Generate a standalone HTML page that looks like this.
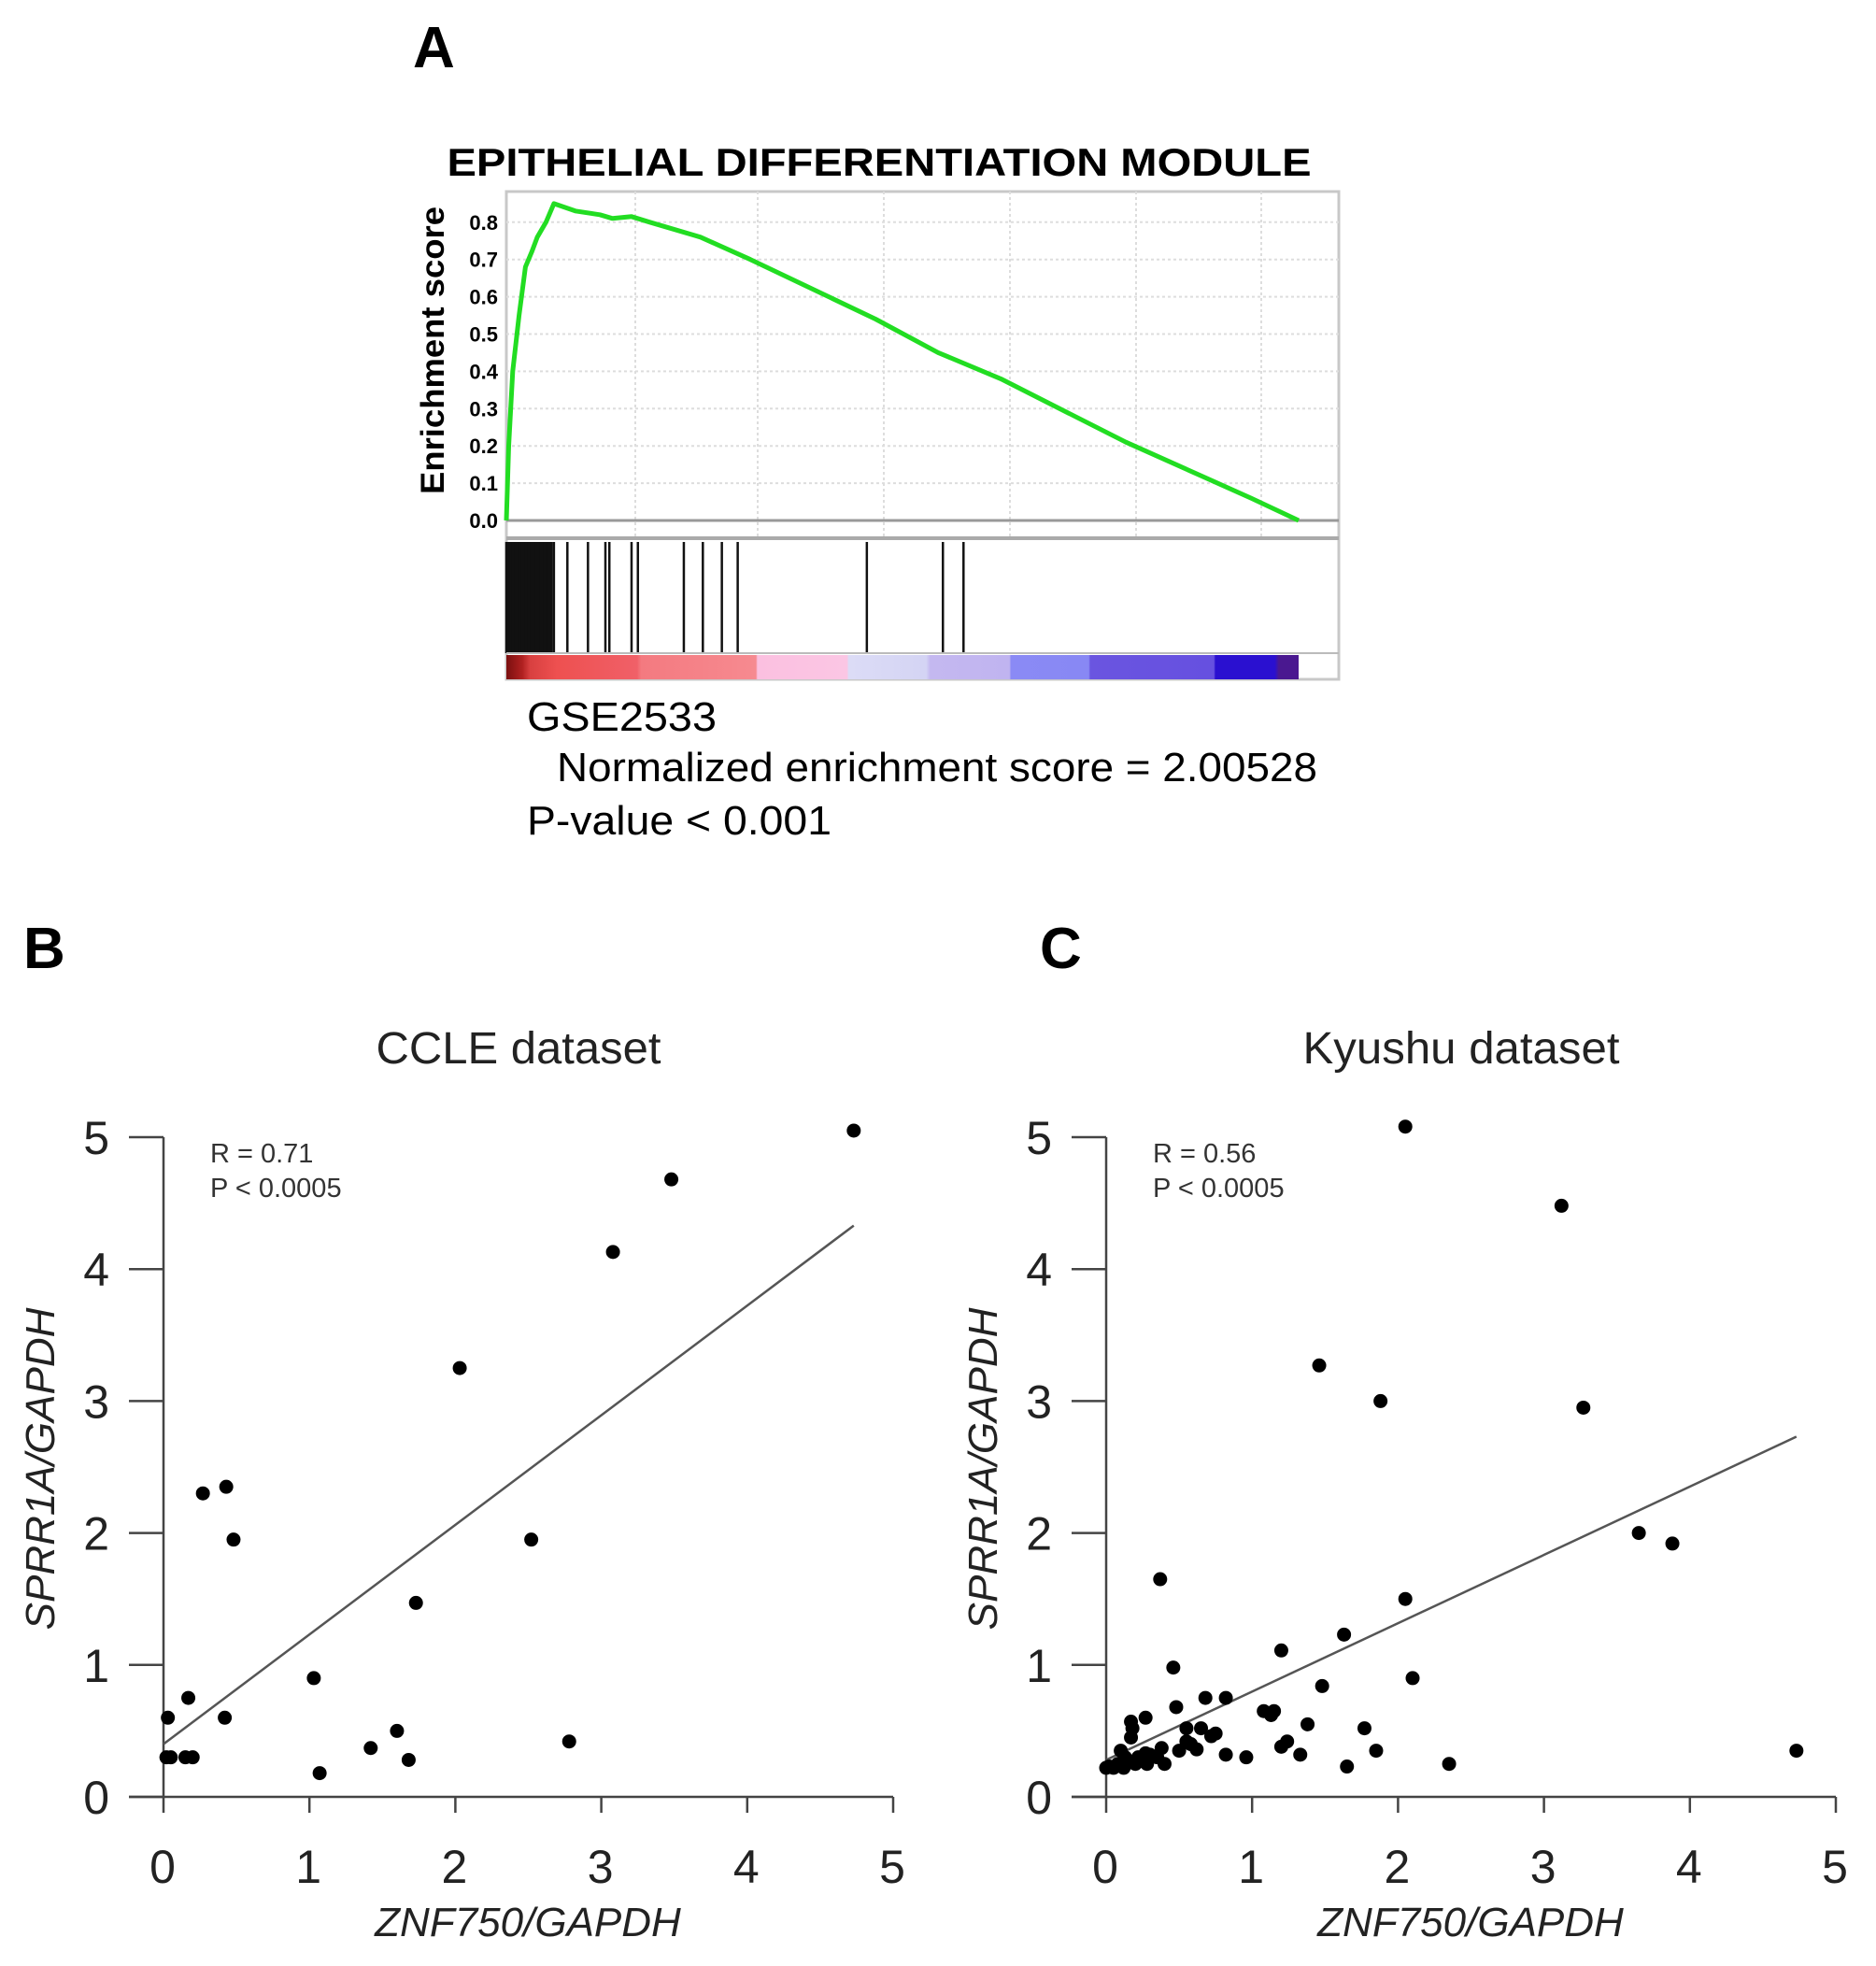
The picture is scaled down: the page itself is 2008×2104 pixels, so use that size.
<!DOCTYPE html>
<html><head><meta charset="utf-8"><style>
html,body{margin:0;padding:0;background:#fff;}
svg{display:block;font-family:"Liberation Sans",Arial,sans-serif;}
</style></head><body>
<svg id="fig" width="2008" height="2104" viewBox="0 0 2008 2104" xmlns="http://www.w3.org/2000/svg">
<rect width="2008" height="2104" fill="#fff"/>
<text x="442" y="72" font-size="62" font-weight="bold">A</text>
<text x="941" y="188" font-size="42" font-weight="bold" text-anchor="middle" textLength="925" lengthAdjust="spacingAndGlyphs">EPITHELIAL DIFFERENTIATION MODULE</text>
<g id="gsea"></g>
<text x="564" y="782" font-size="44" textLength="203" lengthAdjust="spacingAndGlyphs">GSE2533</text>
<text x="596" y="836" font-size="44" textLength="814" lengthAdjust="spacingAndGlyphs">Normalized enrichment score = 2.00528</text>
<text x="564" y="893" font-size="44" textLength="326" lengthAdjust="spacingAndGlyphs">P-value &lt; 0.001</text>
<text x="25" y="1036" font-size="62" font-weight="bold">B</text>
<text x="1113" y="1036" font-size="62" font-weight="bold">C</text>
<g id="scB"></g>
<g id="scC"></g>
</svg>
<script>
// GSEA data
const esRank = [0,0.003,0.008,0.016,0.024,0.032,0.039,0.05,0.06,0.087,0.118,0.134,0.158,0.181,0.245,0.308,0.466,0.545,0.624,0.782,0.94,1.0];
const esValue = [0,0.2,0.4,0.55,0.68,0.72,0.76,0.8,0.85,0.83,0.82,0.81,0.815,0.8,0.76,0.7,0.54,0.45,0.38,0.21,0.06,0];
const esTicks = [0.0,0.1,0.2,0.3,0.4,0.5,0.6,0.7,0.8];
const hitRank = [0.002,0.006,0.01,0.014,0.018,0.022,0.026,0.03,0.034,0.04,0.045,0.05,0.055,0.06,0.077,0.103,0.125,0.13,0.158,0.166,0.224,0.248,0.272,0.292,0.455,0.551,0.577];
// CCLE data
const bX = [0.03,0.02,0.05,0.17,0.15,0.2,0.27,0.43,0.48,0.42,1.03,1.07,1.42,1.6,1.68,1.73,2.03,2.52,2.78,3.08,3.48,4.73];
const bY = [0.6,0.3,0.3,0.75,0.3,0.3,2.3,2.35,1.95,0.6,0.9,0.18,0.37,0.5,0.28,1.47,3.25,1.95,0.42,4.13,4.68,5.05];
const bFit = [0.4,4.33];
// Kyushu data
const cX = [2.05,3.12,1.46,1.88,3.27,3.65,3.88,0.37,2.05,1.63,1.2,0.46,2.1,1.48,0.48,0.68,0.82,1.08,1.13,1.15,1.38,1.77,1.2,1.24,1.33,1.85,1.65,2.35,4.73,0.82,0.96,0.72,0.75,0.55,0.65,0.58,0.5,0.62,0.55,0.38,0.4,0.35,0.17,0.18,0.17,0.27,0.1,0.05,0,0.02,0.08,0.12,0.15,0.2,0.22,0.25,0.27,0.3,0.13,0.28];
const cY = [5.08,4.48,3.27,3.0,2.95,2.0,1.92,1.65,1.5,1.23,1.11,0.98,0.9,0.84,0.68,0.75,0.75,0.65,0.62,0.65,0.55,0.52,0.38,0.42,0.32,0.35,0.23,0.25,0.35,0.32,0.3,0.46,0.48,0.52,0.52,0.4,0.35,0.36,0.42,0.37,0.25,0.3,0.57,0.52,0.45,0.6,0.35,0.22,0.22,0.23,0.25,0.22,0.26,0.25,0.3,0.28,0.33,0.32,0.3,0.25];
const cFit = [0.28,2.73];
const axTicks = [0,1,2,3,4,5];

const NS="http://www.w3.org/2000/svg";
function mk(parent,tag,attrs){const e=document.createElementNS(NS,tag);for(const k in attrs)e.setAttribute(k,attrs[k]);parent.appendChild(e);return e;}

(function(){
  const g=document.getElementById('gsea');
  const L=542,R=1433,T=205,B=576,x0=542,x1=1390,y0=557,ppu=399;
  const sx=r=>x0+r*(x1-x0), sy=v=>y0-v*ppu;
  const box=mk(g,'rect',{x:L,y:T,width:R-L,height:727-T,fill:'none',stroke:'#c8c8c8','stroke-width':3});
  
  
  [680,811,946,1081,1216,1350].forEach(x=>{const l=mk(g,'line',{x1:x,x2:x,y1:T,y2:B,stroke:'#ddd','stroke-width':2,'stroke-dasharray':'3 3'});
    
    });
  esTicks.forEach(v=>{const y=sy(v);
    if(v>0){const l=mk(g,'line',{x1:L,x2:R,y1:y,y2:y,stroke:'#ddd','stroke-width':2,'stroke-dasharray':'3 3'});
      
      }
    const t=mk(g,'text',{x:533,y:y+8,'font-size':22,'font-weight':'bold','text-anchor':'end'});t.textContent=v.toFixed(1);
    
    });
  const zl=mk(g,'line',{x1:L,x2:R,y1:y0,y2:y0,stroke:'#999','stroke-width':3});
  
  
  const sep=mk(g,'line',{x1:L,x2:R,y1:B,y2:B,stroke:'#aaa','stroke-width':4});
  
  
  const yl=mk(g,'text',{x:0,y:0,'font-size':35,'font-weight':'bold','text-anchor':'middle',transform:'translate(475,375) rotate(-90)',textLength:308,lengthAdjust:'spacingAndGlyphs'});yl.textContent='Enrichment score';
  
  
  const pts=esRank.map((r,i)=>sx(r).toFixed(1)+','+sy(esValue[i]).toFixed(1)).join(' ');
  const pl=mk(g,'polyline',{points:pts,fill:'none',stroke:'#22dd22','stroke-width':5,'stroke-linejoin':'round'});
  
  
  hitRank.forEach(r=>{const l=mk(g,'line',{x1:sx(r),x2:sx(r),y1:580,y2:699,stroke:'#111','stroke-width':r<0.06?6:2.5});
    
    });
  const hl=mk(g,'line',{x1:L,x2:R,y1:699,y2:699,stroke:'#bbb','stroke-width':2});
  
  
  const defs=mk(g,'defs',{});const gr=mk(defs,'linearGradient',{id:'rk',x1:0,x2:1,y1:0,y2:0});
  [[0,'#7a1010'],[0.02,'#b02020'],[0.03,'#d84040'],[0.064,'#ee5050'],[0.165,'#f06068'],[0.17,'#f47a80'],[0.315,'#f68a90'],[0.317,'#fbc0e0'],[0.43,'#fbc6e4'],[0.432,'#dcdcf6'],[0.53,'#d4d4f4'],[0.535,'#c4b8f0'],[0.635,'#c0b4f0'],[0.637,'#8a8af5'],[0.735,'#8888f4'],[0.737,'#6a55e0'],[0.893,'#6650e0'],[0.895,'#2a10d0'],[0.97,'#2a10d0'],[0.975,'#4a1890'],[1,'#4a1890']].forEach(s=>mk(gr,'stop',{offset:s[0],'stop-color':s[1]}));
  const cb=mk(g,'rect',{x:x0,y:701,width:x1-x0,height:26,fill:'url(#rk)'});
  
  
})();

function scatter(id,X,Y,fit,ax,title,rtxt,titleW){
  const g=document.getElementById(id);
  const y0=1923,y5=1217,x5=ax+781;
  const sx=v=>ax+v*(x5-ax)/5, sy=v=>y0-v*(y0-y5)/5;
  const t=mk(g,'text',{x:ax+380,y:1138,'font-size':48,'text-anchor':'middle',fill:'#222',textLength:titleW,lengthAdjust:'spacingAndGlyphs'});t.textContent=title;
  
  
  const a1=mk(g,'line',{x1:ax,x2:ax,y1:y5,y2:y0,stroke:'#444','stroke-width':2.5});
  
  
  const a2=mk(g,'line',{x1:ax-37,x2:x5,y1:y0,y2:y0,stroke:'#444','stroke-width':2.5});
  
  
  axTicks.forEach(v=>{
    const l1=mk(g,'line',{x1:ax-37,x2:ax,y1:sy(v),y2:sy(v),stroke:'#444','stroke-width':2.5});
    
    
    const l2=mk(g,'line',{x1:sx(v),x2:sx(v),y1:y0,y2:y0+17,stroke:'#444','stroke-width':2.5});
    
    
    const ty=mk(g,'text',{x:ax-58,y:sy(v)+18,'font-size':50,'text-anchor':'end',fill:'#222'});ty.textContent=v;
    
    
    const tx=mk(g,'text',{x:sx(v)-1,y:2015,'font-size':50,'text-anchor':'middle',fill:'#222'});tx.textContent=v;
    
    
  });
  const xl=mk(g,'text',{x:ax+390,y:2072,'font-size':44,'font-style':'italic','text-anchor':'middle',fill:'#222'});xl.textContent='ZNF750/GAPDH';
  
  
  const yl=mk(g,'text',{x:0,y:0,'font-size':44,'font-style':'italic','text-anchor':'middle',fill:'#222',transform:`translate(${ax-117},1572) rotate(-90)`});yl.textContent='SPRR1A/GAPDH';
  
  
  const r1=mk(g,'text',{x:ax+50,y:1244,'font-size':29,fill:'#333'});r1.textContent=rtxt;
  
  
  const r2=mk(g,'text',{x:ax+50,y:1281,'font-size':29,fill:'#333'});r2.textContent='P < 0.0005';
  
  
  const fl=mk(g,'line',{x1:sx(0),y1:sy(fit[0]),x2:sx(4.73),y2:sy(fit[1]),stroke:'#555','stroke-width':2.5});
  
  
  X.forEach((x,i)=>{const c=mk(g,'circle',{cx:sx(x),cy:sy(Y[i]),r:7.5,fill:'#000'});
    
    });
}
scatter('scB',bX,bY,bFit,175,'CCLE dataset','R = 0.71',305);
scatter('scC',cX,cY,cFit,1184,'Kyushu dataset','R = 0.56',339);
</script>
</body></html>
